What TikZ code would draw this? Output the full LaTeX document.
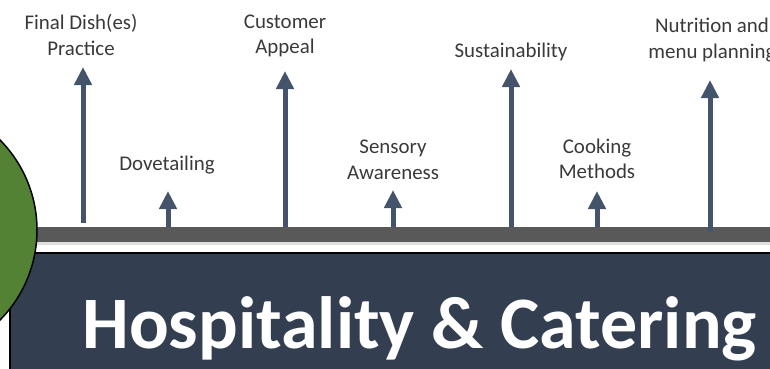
\documentclass[tikz,border=0pt]{standalone}
\usepackage{fontspec}
\setmainfont{Carlito}
\usetikzlibrary{arrows.meta}
\definecolor{arrowc}{HTML}{44546A}
\definecolor{barc}{HTML}{595959}
\definecolor{boxc}{HTML}{333F50}
\definecolor{greenc}{HTML}{548235}
\definecolor{txtc}{HTML}{3B3838}
\tikzset{
  lbl/.style={font=\fontsize{20.9}{25.5}\selectfont, text=txtc, align=center, inner sep=0pt},
  upar/.style={draw=arrowc, line width=5pt, -{Triangle[width=17pt,length=18pt]}},
}
\begin{document}
\begin{tikzpicture}[x=1pt,y=-1pt]
\useasboundingbox (0,0) rectangle (770,368);
% gray bar
\fill[gray!25] (25,242) rectangle (770,245);
\fill[barc] (25,227) rectangle (770,242);
% box
\fill[boxc, draw=black, line width=2pt] (10,253) rectangle (775,375);
\node[anchor=base, text=white, font=\fontsize{74}{80}\selectfont\bfseries, inner sep=0pt] (title) at (419.5,348) {Hospitality \& Catering};
% circle
\draw[fill=greenc, line width=1.5pt] (-91,230) circle (128pt);
% labels
\node[lbl] (l1) at (81,35) {Final Dish(es)\\Practice};
\node[lbl] (l2) at (167,165) {Dovetailing};
\node[lbl] (l3) at (285,36) {Customer\\Appeal};
\node[lbl] (l4) at (393,160) {Sensory\\Awareness};
\node[lbl] (l5) at (511,52) {Sustainability};
\node[lbl] (l6) at (597,159) {Cooking\\Methods};
\node[lbl] (l7) at (712,40) {Nutrition and\\menu planning};
% arrows
\coordinate (b1) at (83,223); \coordinate (t1) at (83,67);
\coordinate (b2) at (168,227); \coordinate (t2) at (168,191);
\coordinate (b3) at (285,227); \coordinate (t3) at (285,71);
\coordinate (b4) at (393,227); \coordinate (t4) at (393,190);
\coordinate (b5) at (511,227); \coordinate (t5) at (511,69);
\coordinate (b6) at (597,227); \coordinate (t6) at (597,191);
\coordinate (b7) at (710,232); \coordinate (t7) at (710,80);
\foreach \i in {1,...,7} \draw[upar] (b\i) -- (t\i);
\end{tikzpicture}
\end{document}
